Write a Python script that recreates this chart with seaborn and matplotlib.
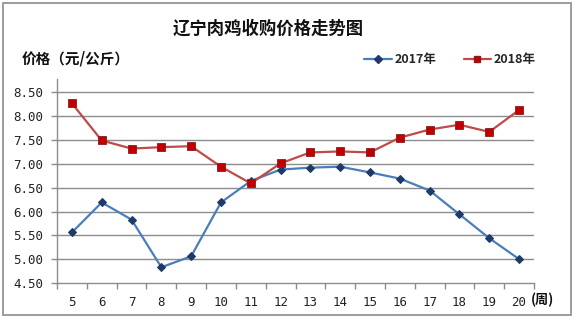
import matplotlib
matplotlib.use("Agg")
import matplotlib.pyplot as plt
from matplotlib.patches import Rectangle
from matplotlib.lines import Line2D
import seaborn as sns
import pandas as pd
import numpy as np

weeks = list(range(5, 21))
price_2017 = [5.56, 6.19, 5.83, 4.83, 5.06, 6.19, 6.64, 6.88, 6.92, 6.94,
              6.82, 6.69, 6.44, 5.94, 5.44, 5.00]
price_2018 = [8.27, 7.49, 7.32, 7.35, 7.37, 6.94, 6.59, 7.01, 7.24, 7.26,
              7.24, 7.55, 7.72, 7.82, 7.67, 8.13]
y_ticks = [4.50, 5.00, 5.50, 6.00, 6.50, 7.00, 7.50, 8.00, 8.50]
title = "辽宁肉鸡收购价格走势图"
y_title = "价格（元/公斤）"
x_unit = "(周)"

sns.set_theme(style="white")
plt.rcParams["font.family"] = ["Noto Sans CJK SC", "DejaVu Sans"]

fig = plt.figure(figsize=(5.76, 3.23), dpi=100)
ax = fig.add_axes([57 / 576, 1 - 283 / 323, (534 - 57) / 576, (283 - 79) / 323])

df = pd.DataFrame({"周": weeks, "2017年": price_2017, "2018年": price_2018})

blue_line, blue_mk = "#4A7EBB", "#1F3A68"
red_line, red_mk = "#BE4B48", "#C00000"

sns.lineplot(data=df, x="周", y="2017年", ax=ax, color=blue_line, lw=1.6,
             marker="D", markersize=3.8, markerfacecolor=blue_mk,
             markeredgecolor=blue_mk, zorder=3)
sns.lineplot(data=df, x="周", y="2018年", ax=ax, color=red_line, lw=1.6,
             marker="s", markersize=5.6, markerfacecolor=red_mk,
             markeredgecolor="#8B1A1A", markeredgewidth=0.6, zorder=4)

ax.set_xlim(4.5, 20.5)
ax.set_ylim(4.5, 8.78)
ax.set_xlabel("")
ax.set_ylabel("")

# gridlines
ax.set_yticks(y_ticks)
ax.set_yticklabels([f"{v:.2f}" for v in y_ticks], family="DejaVu Sans Mono",
                   fontsize=9, color="#222222")
for v in y_ticks[1:]:
    ax.axhline(v, color="#8C8C8C", lw=1, zorder=1)

# category boundaries as tick marks, labels at centres
ax.set_xticks(np.arange(4.5, 21.0, 1.0))
ax.set_xticklabels([])
ax.set_xticks(weeks, minor=True)
ax.set_xticklabels([str(w) for w in weeks], minor=True,
                   family="DejaVu Sans Mono", fontsize=9, color="#222222")
ax.tick_params(axis="x", which="major", direction="out", length=4,
               color="#8C8C8C", width=1, bottom=True)
ax.tick_params(axis="x", which="minor", length=0, pad=9, bottom=True)
ax.tick_params(axis="y", direction="out", length=4, color="#8C8C8C",
               width=1, left=True, pad=6)

for side in ["top", "right"]:
    ax.spines[side].set_visible(False)
for side in ["left", "bottom"]:
    ax.spines[side].set_color("#8C8C8C")
    ax.spines[side].set_linewidth(1)

# titles
fig.text(268 / 576, 1 - 29 / 323, title, ha="center", va="center",
         fontsize=12.5, weight="bold", color="#111111")
fig.text(22 / 576, 1 - 58 / 323, y_title, ha="left", va="center",
         fontsize=10.5, weight="bold", color="#111111")
fig.text(531 / 576, 1 - 300 / 323, x_unit, ha="left", va="center",
         fontsize=9.5, weight="bold", color="#111111")

# legend
handles = [
    Line2D([], [], color=blue_line, lw=1.6, marker="D", markersize=3.8,
           markerfacecolor=blue_mk, markeredgecolor=blue_mk),
    Line2D([], [], color=red_line, lw=1.6, marker="s", markersize=5,
           markerfacecolor=red_mk, markeredgecolor="#8B1A1A"),
]
fig.legend(handles, ["2017年", "2018年"], loc="center",
           bbox_to_anchor=(450 / 576, 1 - 60 / 323), ncol=2, frameon=False,
           prop={"size": 9, "weight": "bold"}, handlelength=2.2,
           handletextpad=0.2, columnspacing=2.2)

# outer frame
fig.patches.append(Rectangle((3 / 576, 8 / 323), 568 / 576, 312 / 323,
                             transform=fig.transFigure, fill=False,
                             edgecolor="#8C8C8C", lw=1.2))

fig.savefig("out.png", dpi=100)
